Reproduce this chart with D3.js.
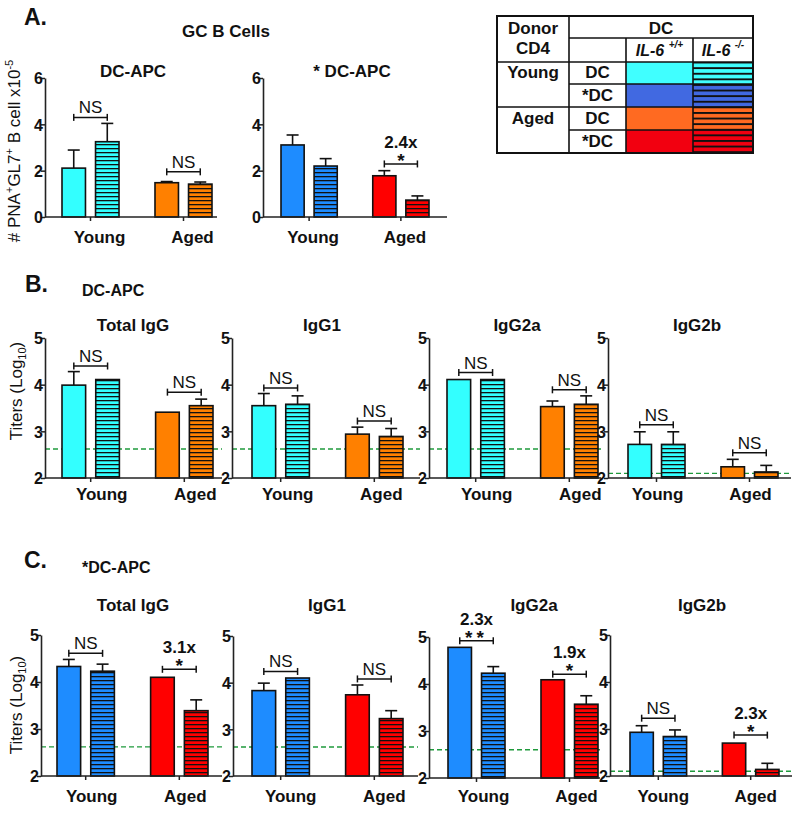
<!DOCTYPE html>
<html><head><meta charset="utf-8">
<script src="https://cdn.jsdelivr.net/npm/d3@7"></script>
<style>
body{margin:0;background:#fff;}
svg{display:block;font-family:"Liberation Sans",Arial,sans-serif;}
</style></head>
<body><svg id="c" width="800" height="813"></svg>
<script>
// ---------------- DATA ----------------
const groups = ["Young", "Aged"];
const genotypes = ["IL-6+/+", "IL-6-/-"];
// order in each array: [Young IL-6+/+, Young IL-6-/-, Aged IL-6+/+, Aged IL-6-/-]
const gcDC_mean   = [2.11, 3.25, 1.48, 1.42];
const gcDC_sem    = [0.78, 0.79, 0.05, 0.09];
const gcSDC_mean  = [3.11, 2.20, 1.78, 0.73];
const gcSDC_sem   = [0.43, 0.32, 0.22, 0.18];

const bTot_mean = [3.99, 4.11, 3.41, 3.55]; const bTot_sem = [0.29, 0, 0, 0.14];
const bG1_mean  = [3.55, 3.58, 2.94, 2.89]; const bG1_sem  = [0.26, 0.18, 0.15, 0.17];
const bG2a_mean = [4.11, 4.11, 3.53, 3.58]; const bG2a_sem = [0, 0, 0.12, 0.18];
const bG2b_mean = [2.72, 2.72, 2.24, 2.13]; const bG2b_sem = [0.27, 0.27, 0.16, 0.14];

const cTot_mean = [4.33, 4.23, 4.10, 3.39]; const cTot_sem = [0.15, 0.15, 0, 0.23];
const cG1_mean  = [3.83, 4.10, 3.74, 3.23]; const cG1_sem  = [0.16, 0, 0.21, 0.17];
const cG2a_mean = [4.78, 4.23, 4.09, 3.57]; const cG2a_sem = [0, 0.14, 0, 0.18];
const cG2b_mean = [2.93, 2.84, 2.70, 2.14]; const cG2b_sem = [0.14, 0.14, 0, 0.13];

// significance brackets: [group, level, label, fold]
const gcDC_sig  = [["Young", 4.30, "NS", ""], ["Aged", 1.95, "NS", ""]];
const gcSDC_sig = [["Aged", 2.29, "*", "2.4x"]];
const bTot_sig  = [["Young", 4.40, "NS", ""], ["Aged", 3.84, "NS", ""]];
const bG1_sig   = [["Young", 3.93, "NS", ""], ["Aged", 3.22, "NS", ""]];
const bG2a_sig  = [["Young", 4.26, "NS", ""], ["Aged", 3.89, "NS", ""]];
const bG2b_sig  = [["Young", 3.14, "NS", ""], ["Aged", 2.54, "NS", ""]];
const cTot_sig  = [["Young", 4.61, "NS", ""], ["Aged", 4.27, "*", "3.1x"]];
const cG1_sig   = [["Young", 4.24, "NS", ""], ["Aged", 4.08, "NS", ""]];
const cG2a_sig  = [["Young", 4.92, "**", "2.3x"], ["Aged", 4.21, "*", "1.9x"]];
const cG2b_sig  = [["Young", 3.23, "NS", ""], ["Aged", 2.87, "*", "2.3x"]];

// detection limits (dashed lines)
const bLimits = [2.62, 2.62, 2.62, 2.1];
const cLimits = [2.62, 2.62, 2.6, 2.1];

const gcTicks = [0, 2, 4, 6];
const titerTicks = [2, 3, 4, 5];

// colours
const colDC  = {Young: "#33ffff", Aged: "#ff8000"};
const colSDC = {Young: "#1e8cff", Aged: "#ff0000"};
const legendColors = {YoungDC: "#40ffff", YoungSDC: "#4169e1", AgedDC: "#ff6a21", AgedSDC: "#f20010"};

// ---------------- DRAW ----------------
const FONT = '"Liberation Sans",Arial,sans-serif';
const svg = d3.select("#c");
const defs = svg.append("defs");
function stripe(id, color, period, lw){
  const p = defs.append("pattern").attr("id", id).attr("patternUnits","userSpaceOnUse")
    .attr("width", 10).attr("height", period);
  p.append("rect").attr("width",10).attr("height",period).attr("fill",color);
  p.append("rect").attr("y",0).attr("width",10).attr("height",lw).attr("fill","#111");
}
const allCols = {c1: colDC.Young, c2: colDC.Aged, c3: colSDC.Young, c4: colSDC.Aged};
Object.entries(allCols).forEach(([k,c]) => stripe("st-"+c.slice(1), c, 4, 1.3));
Object.entries(legendColors).forEach(([k,c]) => stripe("lg-"+k, c, 5.6, 1.9));

function txt(g, x, y, s, size, weight, anchor){
  return g.append("text").attr("x",x).attr("y",y).attr("font-size",size)
    .attr("font-weight",weight||"bold").attr("text-anchor",anchor||"middle").attr("fill","#111").text(s);
}

function subplot(cfg){
  const g = svg.append("g");
  const y = d3.scaleLinear().domain(cfg.domain).range([cfg.yBot, cfg.yTop]);
  const outer = d3.scaleBand().domain(groups).range([cfg.gs, cfg.ge]).paddingInner(0.387);
  const inner = d3.scaleBand().domain(genotypes).range([0, outer.bandwidth()]).paddingInner(0.3);
  const rows = [];
  groups.forEach((gr, gi) => genotypes.forEach((ge, ki) => {
    const i = gi*2 + ki;
    rows.push({group: gr, geno: ge, mean: cfg.mean[i], sem: cfg.sem[i],
      color: cfg.colors[gr], striped: ki === 1});
  }));
  if (cfg.limit != null){
    g.append("line").attr("x1", cfg.x0).attr("x2", cfg.x1)
      .attr("y1", y(cfg.limit)).attr("y2", y(cfg.limit))
      .attr("stroke","#1f9a3c").attr("stroke-width",1.4).attr("stroke-dasharray","5,3");
  }
  const bx = d => outer(d.group) + inner(d.geno);
  rows.filter(d => d.sem > 0).forEach(d => {
    const cx = bx(d) + inner.bandwidth()/2;
    g.append("line").attr("x1",cx).attr("x2",cx).attr("y1",y(d.mean)).attr("y2",y(d.mean+d.sem))
      .attr("stroke","#111").attr("stroke-width",1.6);
    g.append("line").attr("x1",cx-6).attr("x2",cx+6).attr("y1",y(d.mean+d.sem)).attr("y2",y(d.mean+d.sem))
      .attr("stroke","#111").attr("stroke-width",1.6);
  });
  g.selectAll("rect.bar").data(rows).enter().append("rect").attr("class","bar")
    .attr("x", bx).attr("width", inner.bandwidth())
    .attr("y", d => y(d.mean)).attr("height", d => y(cfg.domain[0]) - y(d.mean))
    .attr("fill", d => d.striped ? "url(#st-" + d.color.slice(1) + ")" : d.color)
    .attr("stroke","#111").attr("stroke-width",1.6);
  const ya = g.append("g").attr("transform", `translate(${cfg.x0},0)`)
    .call(d3.axisLeft(y).tickValues(cfg.ticks).tickSize(4).tickSizeOuter(0).tickFormat(d3.format("d")));
  ya.select(".domain").attr("stroke","#222").attr("stroke-width",1.6);
  ya.selectAll(".tick line").attr("stroke","#222").attr("stroke-width",1.5);
  ya.selectAll(".tick text").attr("font-size",16).attr("font-weight","bold").attr("fill","#111")
    .attr("font-family",FONT).attr("x",-2).attr("dy","0.36em");
  g.append("line").attr("x1",cfg.x0).attr("x2",cfg.x1).attr("y1",cfg.yBot).attr("y2",cfg.yBot)
    .attr("stroke","#222").attr("stroke-width",1.6);
  const xa = g.append("g").attr("transform", `translate(0,${cfg.yBot})`)
    .call(d3.axisBottom(outer).tickSize(4).tickSizeOuter(0).tickFormat(""));
  xa.select(".domain").remove();
  xa.selectAll(".tick line").attr("stroke","#222").attr("stroke-width",1.5);
  groups.forEach(gr => txt(g, outer(gr) + outer.bandwidth()/2 + cfg.labelDx, cfg.labelY, gr, 17));
  txt(g, cfg.titleX, cfg.titleY, cfg.title, 17);
  cfg.sig.forEach(([gr, lvl, lab, fold]) => {
    const xa1 = outer(gr) + inner(genotypes[0]) + inner.bandwidth()/2;
    const xa2 = outer(gr) + inner(genotypes[1]) + inner.bandwidth()/2;
    const yy = y(lvl);
    g.append("line").attr("x1",xa1).attr("x2",xa2).attr("y1",yy).attr("y2",yy).attr("stroke","#111").attr("stroke-width",1.5);
    [xa1, xa2].forEach(xx => g.append("line").attr("x1",xx).attr("x2",xx).attr("y1",yy-3.5).attr("y2",yy+3.5)
      .attr("stroke","#111").attr("stroke-width",1.5));
    const cx = (xa1+xa2)/2;
    if (lab === "NS") txt(g, cx, yy-4, "NS", 17, "normal");
    else {
      txt(g, cx, yy+3, lab, 19).attr("letter-spacing", lab.length > 1 ? 4 : 0);
      if (fold) txt(g, cx, yy-16, fold, 17);
    }
  });
}

// Panel A
txt(svg, 24, 25, "A.", 23, "bold", "start");
txt(svg, 226, 37, "GC B Cells", 17);
subplot({x0:45, x1:217, gs:62, ge:212, yBot:217, yTop:78, domain:[0,6], ticks:gcTicks,
  mean:gcDC_mean, sem:gcDC_sem, colors:colDC, title:"DC-APC", titleX:133, titleY:77,
  labelY:243, labelDx:9, sig:gcDC_sig});
subplot({x0:263, x1:447, gs:281, ge:429, yBot:217, yTop:78, domain:[0,6], ticks:gcTicks,
  mean:gcSDC_mean, sem:gcSDC_sem, colors:colSDC, title:"* DC-APC", titleX:352, titleY:77,
  labelY:243, labelDx:4, sig:gcSDC_sig});
const ylA = svg.append("text").attr("transform","translate(20,151) rotate(-90)")
  .attr("text-anchor","middle").attr("font-size",17).attr("fill","#111");
ylA.append("tspan").text("# PNA");
ylA.append("tspan").attr("font-size",11).attr("dy",-7).text("+");
ylA.append("tspan").attr("dy",7).text("GL7");
ylA.append("tspan").attr("font-size",11).attr("dy",-7).text("+");
ylA.append("tspan").attr("dy",7).text(" B cell x10");
ylA.append("tspan").attr("font-size",11).attr("dy",-7).text("-5");

// Panel B
txt(svg, 25, 292, "B.", 23, "bold", "start");
txt(svg, 82, 296, "DC-APC", 16, "bold", "start");
const bCfg = [
  {x0:45, x1:222, gs:62, ge:213, title:"Total IgG", titleX:133, labelDx:11, mean:bTot_mean, sem:bTot_sem, sig:bTot_sig},
  {x0:232, x1:420, gs:252, ge:403, title:"IgG1", titleX:322, labelDx:7, mean:bG1_mean, sem:bG1_sem, sig:bG1_sig},
  {x0:429, x1:601, gs:447, ge:598, title:"IgG2a", titleX:517, labelDx:11, mean:bG2a_mean, sem:bG2a_sem, sig:bG2a_sig},
  {x0:608, x1:791, gs:628, ge:778, title:"IgG2b", titleX:697, labelDx:1, mean:bG2b_mean, sem:bG2b_sem, sig:bG2b_sig}
];
bCfg.forEach((c,i) => subplot(Object.assign({yBot:478, yTop:338, domain:[2,5], ticks:titerTicks,
  colors:colDC, titleY:331, labelY:500, limit:bLimits[i]}, c)));

// Panel C
txt(svg, 24, 568, "C.", 23, "bold", "start");
txt(svg, 82, 573, "*DC-APC", 16, "bold", "start");
const cCfg = [
  {x0:41, x1:222, gs:57, ge:208, yBot:776, yTop:635, title:"Total IgG", titleX:133, labelDx:6, mean:cTot_mean, sem:cTot_sem, sig:cTot_sig},
  {x0:233, x1:418, gs:252, ge:403, yBot:776, yTop:636, title:"IgG1", titleX:327, labelDx:10, mean:cG1_mean, sem:cG1_sem, sig:cG1_sig},
  {x0:429, x1:600, gs:448, ge:598, yBot:778, yTop:637, title:"IgG2a", titleX:534, labelDx:7, mean:cG2a_mean, sem:cG2a_sem, sig:cG2a_sig},
  {x0:610, x1:792, gs:630, ge:779, yBot:776, yTop:635, title:"IgG2b", titleX:702, labelDx:5, mean:cG2b_mean, sem:cG2b_sem, sig:cG2b_sig}
];
cCfg.forEach((c,i) => subplot(Object.assign({domain:[2,5], ticks:titerTicks,
  colors:colSDC, titleY:611, labelY:802, limit:cLimits[i]}, c)));

[[391],[705]].forEach(([cy]) => {
  const t = svg.append("text").attr("transform",`translate(22,${cy}) rotate(-90)`)
    .attr("text-anchor","middle").attr("font-size",17).attr("fill","#111");
  t.append("tspan").text("Titers (Log");
  t.append("tspan").attr("font-size",11).attr("dy",4).text("10");
  t.append("tspan").attr("dy",-4).text(")");
});

// Legend table
const L = svg.append("g");
const xs = [497, 569, 626, 693, 753];
const ys = [16, 38, 62, 84, 107, 130, 153];
const legRows = [
  {name:"YoungDC", label:"DC"}, {name:"YoungSDC", label:"*DC"},
  {name:"AgedDC", label:"DC"}, {name:"AgedSDC", label:"*DC"}
];
legRows.forEach((r,i) => {
  L.append("rect").attr("x",xs[2]).attr("y",ys[i+2]).attr("width",xs[3]-xs[2]).attr("height",ys[i+3]-ys[i+2])
    .attr("fill", legendColors[r.name]);
  L.append("rect").attr("x",xs[3]).attr("y",ys[i+2]).attr("width",xs[4]-xs[3]).attr("height",ys[i+3]-ys[i+2])
    .attr("fill", `url(#lg-${r.name})`);
  txt(L, (xs[1]+xs[2])/2, ys[i+3]-6, r.label, 17);
});
const ln = (x1,y1,x2,y2,w) => L.append("line").attr("x1",x1).attr("y1",y1).attr("x2",x2).attr("y2",y2)
  .attr("stroke","#111").attr("stroke-width",w||1.6);
ln(xs[1], ys[1], xs[4], ys[1]);
ln(xs[0], ys[2], xs[4], ys[2]);
ln(xs[1], ys[3], xs[4], ys[3]);
ln(xs[0], ys[4], xs[4], ys[4]);
ln(xs[1], ys[5], xs[4], ys[5]);
ln(xs[1], ys[0], xs[1], ys[6]);
ln(xs[2], ys[1], xs[2], ys[6]);
ln(xs[3], ys[1], xs[3], ys[6]);
L.append("rect").attr("x",xs[0]).attr("y",ys[0]).attr("width",xs[4]-xs[0]).attr("height",ys[6]-ys[0])
  .attr("fill","none").attr("stroke","#111").attr("stroke-width",2);
txt(L, (xs[0]+xs[1])/2, 34, "Donor", 17);
txt(L, (xs[0]+xs[1])/2, 54, "CD4", 17);
txt(L, (xs[1]+xs[4])/2, 34, "DC", 17);
txt(L, (xs[0]+xs[1])/2, 78, "Young", 17);
txt(L, (xs[0]+xs[1])/2, 124, "Aged", 17);
[[xs[2],xs[3],"+/+"],[xs[3],xs[4],"-/-"]].forEach(([a,b,s]) => {
  const t = L.append("text").attr("x",(a+b)/2).attr("y",56).attr("text-anchor","middle")
    .attr("font-size",16).attr("font-weight","bold").attr("font-style","italic").attr("fill","#111");
  t.append("tspan").text("IL-6 ");
  t.append("tspan").attr("font-size",10).attr("dy",-8).text(s);
});
</script></body></html>
